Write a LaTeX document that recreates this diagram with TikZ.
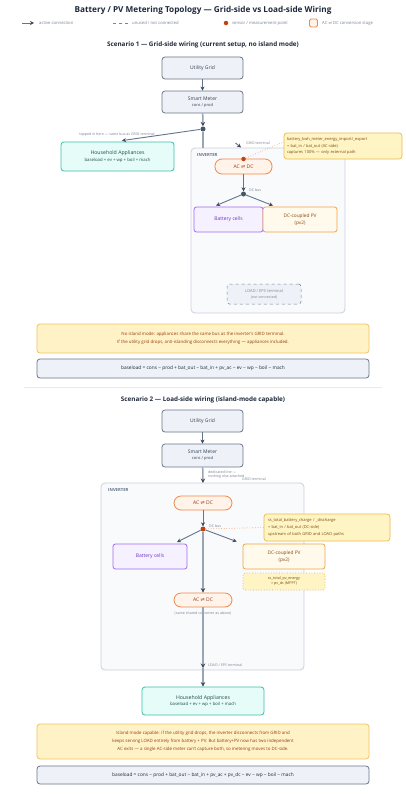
\documentclass[tikz,border=0pt]{standalone}
\usepackage{fontspec}
\setmainfont{Open Sans}
\newfontfamily\symf{DejaVu Sans}
\usetikzlibrary{arrows.meta,calc}
\newcommand\rlh{{\symf ⇌}}
\definecolor{slateB}{HTML}{6B7689}
\definecolor{slateF}{HTML}{EEF2F8}
\definecolor{slateT}{HTML}{334155}
\definecolor{lineC}{HTML}{64748B}
\definecolor{tipC}{HTML}{3F4A5C}
\definecolor{tealB}{HTML}{3DBFA9}
\definecolor{tealF}{HTML}{E6FCF8}
\definecolor{tealT}{HTML}{1F4E4A}
\definecolor{orB}{HTML}{F0884A}
\definecolor{orF}{HTML}{FFF3EA}
\definecolor{orT}{HTML}{9A3A12}
\definecolor{puB}{HTML}{A36BF2}
\definecolor{puF}{HTML}{F6F1FF}
\definecolor{puT}{HTML}{6D32C8}
\definecolor{pvB}{HTML}{EFA444}
\definecolor{pvF}{HTML}{FFFAEC}
\definecolor{pvT}{HTML}{8A4A10}
\definecolor{ntB}{HTML}{EDB94E}
\definecolor{ntF}{HTML}{FFF5C4}
\definecolor{ntT}{HTML}{7C4A12}
\definecolor{wnB}{HTML}{F6C35A}
\definecolor{wnF}{HTML}{FEF2C6}
\definecolor{wnT}{HTML}{944015}
\definecolor{ctB}{HTML}{C9D1DC}
\definecolor{ctF}{HTML}{F8FAFC}
\definecolor{grT}{HTML}{7A8597}
\definecolor{sensC}{HTML}{C2410C}
\definecolor{jC}{HTML}{475569}
\definecolor{headC}{HTML}{1E293B}
\tikzset{
  sz/.style 2 args={minimum width=#1pt, minimum height=#2pt, inner sep=0pt},
  gbox/.style={draw=slateB, fill=slateF, line width=0.8pt, rounded corners=3pt, text=slateT, align=center, font=\fontsize{5}{6.5}\selectfont},
  tealbox/.style={draw=tealB, fill=tealF, line width=0.8pt, rounded corners=3pt, text=tealT, align=center, font=\fontsize{5.2}{6.8}\selectfont},
  acbox/.style={draw=orB, fill=orF, line width=0.8pt, rounded corners=7pt, text=orT, align=center, font=\fontsize{5}{6}\selectfont},
  battbox/.style={draw=puB, fill=puF, line width=0.8pt, rounded corners=2.5pt, text=puT, align=center, font=\fontsize{5}{6}\selectfont},
  pvbox/.style={draw=pvB, fill=pvF, line width=0.8pt, rounded corners=2.5pt, text=pvT, align=center, font=\fontsize{4.8}{6.6}\selectfont},
  notebox/.style={draw=ntB, fill=ntF, line width=0.7pt, rounded corners=3pt, text=ntT, align=left, font=\fontsize{4}{6.6}\selectfont},
  pvnote/.style={draw=pvB, fill=ntF, line width=0.7pt, dotted, rounded corners=2pt, text=ntT, align=center, font=\fontsize{3.7}{5}\selectfont},
  loadbox/.style={draw=grT, fill=slateF, line width=0.5pt, dashed, rounded corners=2.5pt, text=grT, align=center, font=\fontsize{4}{5.6}\selectfont},
  warnbox/.style={draw=wnB, fill=wnF, line width=0.8pt, rounded corners=3pt, text=wnT, align=center, font=\fontsize{4.4}{8}\selectfont},
  formbox/.style={draw=slateB, fill=slateF, line width=0.8pt, rounded corners=3pt, text=headC, align=center, font=\fontsize{4.8}{6}\selectfont},
  cont/.style={draw=ctB, fill=ctF, line width=0.8pt, rounded corners=4pt},
  contlbl/.style={text=lineC, font=\fontsize{4.2}{5}\selectfont\bfseries, inner sep=0pt},
  jdot/.style={circle, fill=jC, minimum size=5pt, inner sep=0pt},
  sdot/.style={circle, fill=sensC, minimum size=5pt, inner sep=0pt},
  lbl/.style={text=grT, font=\fontsize{3.6}{4.4}\selectfont, inner sep=0pt, align=left},
  leg/.style={text=grT, font=\fontsize{4.2}{5}\selectfont, inner sep=0pt},
  hd/.style={text=headC, font=\fontsize{6.3}{7.5}\selectfont\bfseries},
  edge/.style={draw=lineC, line width=0.9pt, -{Stealth[length=4pt,width=4pt,color=tipC]}},
  plain/.style={draw=lineC, line width=0.9pt},
  thickedge/.style={draw=lineC!65, line width=1.5pt, -{Stealth[length=4.5pt,width=4.5pt,color=tipC]}},
  thickplain/.style={draw=lineC!65, line width=1.5pt},
  sensline/.style={draw=orB, line width=0.6pt, dotted},
}
\begin{document}
\begin{tikzpicture}[x=1pt,y=-1pt]
\useasboundingbox (0,0) rectangle (406,800);
\fill[white] (0,0) rectangle (406,800);

% title and legend
\node[text=headC, font=\fontsize{8.2}{10}\selectfont\bfseries] (title) at (203,10) {Battery / PV Metering Topology — Grid-side vs Load-side Wiring};
\coordinate (la1) at (22,23); \coordinate (la2) at (34,23);
\draw[edge] (la1) -- (la2);
\node[leg, anchor=west] (lt1) at (39,23) {active connection};
\coordinate (lb1) at (113,23); \coordinate (lb2) at (128,23);
\draw[draw=grT, line width=0.6pt, dashed] (lb1) -- (lb2);
\node[leg, anchor=west] (lt2) at (132,23) {unused / not connected};
\node[sdot, minimum size=4.5pt] (ldot) at (226,23) {};
\node[leg, anchor=west] (lt3) at (232,23) {sensor / measurement point};
\node[draw=orB, fill=orF, line width=0.8pt, rounded corners=1.5pt, minimum size=8pt, inner sep=0pt] (lsq) at (313.5,23) {};
\node[leg, anchor=west] (lt4) at (322,23) {AC \rlh{} DC conversion stage};

% ================= Scenario 1 =================
\node[hd] (s1) at (203,45) {Scenario 1 — Grid-side wiring (current setup, no island mode)};
\node[cont, sz={154}{165}] (inv1) at (268,230.5) {};
\node[contlbl, anchor=west] (inv1l) at (197,155) {INVERTER};

\node[gbox, sz={81}{22}] (grid1) at (202.5,68) {Utility Grid};
\node[gbox, sz={81}{22}] (meter1) at (202.5,102) {Smart Meter\\[-0.5pt]{\fontsize{4}{5}\selectfont cons / prod}};
\node[jdot] (j1) at (203,129) {};
\node[tealbox, sz={113}{29}] (appl1) at (117.5,156.5) {Household Appliances\\[-0.5pt]{\fontsize{4.3}{5}\selectfont baseload + ev + wp + boil + mach}};
\node[acbox, sz={57}{15}] (acdc1) at (243.5,166.5) {AC \rlh{} DC};
\node[sdot, minimum size=4.5pt] (sens1) at (243.5,159) {};
\node[notebox, sz={118}{26}, text width=112pt] (note1) at (343,146) {battery\_kwh\_meter\_energy\_import/\_export\\= bat\_in / bat\_out (AC-side)\\captures 100\% — only external path};
\node[jdot] (dcj1) at (243.5,194) {};
\node[battbox, sz={69}{25}] (batt1) at (228.5,219.5) {Battery cells};
\node[pvbox, sz={74}{25}] (pv1) at (300,219.5) {DC-coupled PV\\(pv2)};
\node[loadbox, sz={74}{20}] (load1) at (264,294) {LOAD / EPS terminal\\{\fontsize{3.6}{4.5}\selectfont (not connected)}};

\draw[edge] (grid1) -- (meter1);
\draw[thickedge] (meter1) -- (j1);
\draw[edge] (j1) -- ($(appl1.north)+(4.5,-1)$);
\node[lbl] (tap1) at (117,135) {tapped in here — same bus as GRID terminal};
\coordinate (g1) at (203,148);
\draw[thickplain] (j1) -- (g1);
\coordinate (gt1a) at (235.5,143); \coordinate (gt1b) at (241,147.5);
\draw[edge] (gt1a) -- (gt1b);
\node[lbl, anchor=west] (gtl1) at (246,143) {GRID terminal};
\draw[sensline] (sens1) -- ($(note1.west)+(0,-4)$);
\draw[edge] (acdc1) -- (dcj1);
\node[lbl, anchor=west] (dcl1) at (249,190.5) {DC bus};
\draw[edge] (dcj1) -- ($(batt1.north)+(-12.5,-1)$);
\draw[edge] (dcj1) -- ($(pv1.north)+(-27,-1)$);

\node[warnbox, sz={332}{29}] (warn1) at (203,338.5) {No island mode: appliances share the same bus as the inverter's GRID terminal.\\If the utility grid drops, anti-islanding disconnects everything — appliances included.};
\node[formbox, sz={332}{19}] (form1) at (203,368.5) {baseload = cons − prod + bat\_out − bat\_in + pv\_ac − ev − wp − boil − mach};
\coordinate (sepa) at (24,387.5); \coordinate (sepb) at (382,387.5);
\draw[draw=ctF!60!ctB, line width=0.6pt] (sepa) -- (sepb);

% ================= Scenario 2 =================
\node[hd] (s2) at (203,400) {Scenario 2 — Load-side wiring (island-mode capable)};
\node[cont, sz={203}{187}] (inv2) at (202.5,576.5) {};
\node[contlbl, anchor=west] (inv2l) at (108,490) {INVERTER};

\node[gbox, sz={81}{22}] (grid2) at (202.5,421) {Utility Grid};
\node[gbox, sz={81}{23}] (meter2) at (202.5,455.5) {Smart Meter\\[-0.5pt]{\fontsize{4}{5}\selectfont cons / prod}};
\coordinate (g2) at (203,483);
\draw[edge] (grid2) -- (meter2);
\draw[thickedge] (meter2) -- (g2);
\node[lbl, anchor=west] (ded2) at (208,474.5) {dedicated line —\\nothing else attached};
\node[lbl, anchor=west] (gtl2) at (242,479) {GRID terminal};

\node[acbox, sz={58}{14}] (acdc2a) at (203,503) {AC \rlh{} DC};
\node[sdot] (dcj2) at (203,529) {};
\node[lbl, anchor=west] (dcl2) at (209,526) {DC bus};
\node[notebox, sz={126}{27}, text width=118pt] (note2) at (327,527.5) {ss\_total\_battery\_charge / \_discharge\\= bat\_in / bat\_out (DC-side)\\upstream of both GRID and LOAD paths};
\node[battbox, sz={74}{25}] (batt2) at (150,556.5) {Battery cells};
\node[pvbox, sz={82}{25}] (pv2) at (284,556.5) {DC-coupled PV\\(pv2)};
\node[pvnote, sz={82}{17}] (pvn2) at (284,581.5) {ss\_total\_pv\_energy\\= pv\_dc (MPPT)};
\node[acbox, sz={58}{14}] (acdc2b) at (203,600) {AC \rlh{} DC};
\node[lbl] (same2) at (203,613.5) {(same shared converter as above)};
\node[tealbox, sz={122}{28}] (appl2) at (203,701) {Household Appliances\\[-0.5pt]{\fontsize{4.3}{5}\selectfont baseload + ev + wp + boil + mach}};

\draw[edge] (acdc2a) -- (dcj2);
\draw[sensline] (dcj2) -- (note2.west);
\draw[edge] (dcj2) -- ($(batt2.north)+(27,-1.5)$);
\draw[edge] (dcj2) -- ($(pv2.north west)+(-6,-2)$);
\draw[thickedge] (dcj2) -- (acdc2b);
\coordinate (le2) at (203,668);
\draw[thickedge] (acdc2b) -- (le2);
\draw[thickedge] (le2) -- (appl2);
\node[lbl, anchor=west] (lel2) at (208,665.5) {LOAD / EPS terminal};

\node[warnbox, sz={332}{35}] (warn2) at (203,741.5) {Island mode capable: if the utility grid drops, the inverter disconnects from GRID and\\keeps serving LOAD entirely from battery + PV. But battery+PV now has two independent\\AC exits — a single AC-side meter can't capture both, so metering moves to DC-side.};
\node[formbox, sz={332}{18}] (form2) at (203,775) {baseload = cons − prod + bat\_out − bat\_in + pv\_ac + pv\_dc − ev − wp − boil − mach};
\end{tikzpicture}
\end{document}
